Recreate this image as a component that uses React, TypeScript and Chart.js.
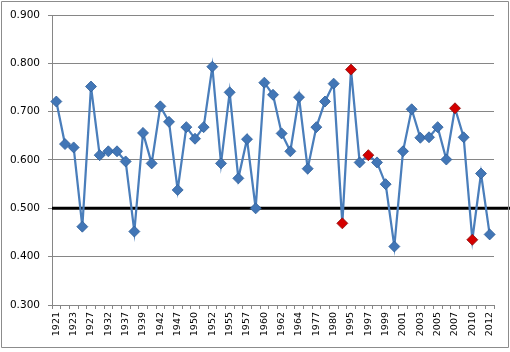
import React, { useEffect, useRef } from "react";
import { Chart, registerables } from "chart.js";

Chart.register(...registerables);

const years: string[] = [
  "1921", "1922", "1923", "1925", "1927", "1930", "1932", "1935", "1937", "1938",
  "1939", "1941", "1942", "1945", "1947", "1949", "1950", "1951", "1952", "1954",
  "1955", "1956", "1957", "1959", "1960", "1961", "1962", "1963", "1964", "1976",
  "1977", "1979", "1980", "1983", "1995", "1996", "1997", "1998", "1999", "2000",
  "2001", "2002", "2003", "2004", "2005", "2006", "2007", "2009", "2010", "2011",
  "2012",
];

const values: number[] = [
  0.721, 0.633, 0.626, 0.462, 0.752, 0.610, 0.618, 0.618, 0.597, 0.452,
  0.656, 0.593, 0.711, 0.679, 0.538, 0.668, 0.644, 0.668, 0.793, 0.593,
  0.740, 0.562, 0.643, 0.500, 0.760, 0.735, 0.655, 0.618, 0.730, 0.582,
  0.668, 0.721, 0.758, 0.469, 0.787, 0.595, 0.610, 0.595, 0.550, 0.421,
  0.618, 0.705, 0.646, 0.647, 0.668, 0.601, 0.707, 0.647, 0.435, 0.572,
  0.446,
];

const highlightedYears: string[] = ["1983", "1995", "1997", "2007", "2010"];

const referenceValue = 0.5;
const yMin = 0.3;
const yMax = 0.9;
const yStep = 0.1;

const BLUE_LINE = "#4A7EBB";
const BLUE_FILL = "#4276B6";
const BLUE_BORDER = "#2F5F9A";
const RED_FILL = "#D40000";
const RED_BORDER = "#8A1010";

export default function App() {
  const canvasRef = useRef<HTMLCanvasElement | null>(null);

  useEffect(() => {
    const canvas = canvasRef.current;
    if (!canvas) return;

    const frameAndRefLine = {
      id: "frameAndRefLine",
      beforeDatasetsDraw(chart: any) {
        const { ctx, chartArea, scales } = chart;
        const y = scales.y.getPixelForValue(referenceValue);
        ctx.save();
        ctx.strokeStyle = "#000000";
        ctx.lineWidth = 3;
        ctx.beginPath();
        ctx.moveTo(chartArea.left, y);
        ctx.lineTo(chart.width, y);
        ctx.stroke();
        ctx.restore();
      },
      afterDraw(chart: any) {
        const { ctx } = chart;
        ctx.save();
        ctx.strokeStyle = "#8C8C8C";
        ctx.lineWidth = 1;
        ctx.beginPath();
        ctx.rect(1.5, 1.5, 507, 346);
        ctx.stroke();
        ctx.restore();
      },
    };

    const pointFills = years.map((y) =>
      highlightedYears.includes(y) ? RED_FILL : BLUE_FILL
    );
    const pointBorders = years.map((y) =>
      highlightedYears.includes(y) ? RED_BORDER : BLUE_BORDER
    );

    const chart = new Chart(canvas, {
      type: "line",
      data: {
        labels: years,
        datasets: [
          {
            data: values,
            borderColor: BLUE_LINE,
            borderWidth: 2.25,
            tension: 0,
            pointStyle: "rectRot",
            pointRadius: 5.5,
            pointBackgroundColor: pointFills,
            pointBorderColor: pointBorders,
            pointBorderWidth: 0.8,
            fill: false,
          },
        ],
      },
      options: {
        animation: false,
        responsive: false,
        maintainAspectRatio: false,
        events: [],
        layout: { padding: { top: 15, right: 16, left: 0, bottom: 0 } },
        plugins: {
          legend: { display: false },
          tooltip: { enabled: false },
          title: { display: false },
        },
        scales: {
          x: {
            type: "category",
            offset: true,
            grid: {
              display: true,
              offset: true,
              drawOnChartArea: false,
              drawTicks: true,
              tickLength: 4,
              color: "#868686",
            },
            border: { display: true, color: "#868686", width: 1 },
            ticks: {
              autoSkip: false,
              minRotation: 90,
              maxRotation: 90,
              padding: 3,
              color: "#000000",
              font: { family: "DejaVu Sans", size: 9.5 },
              callback: (_v: any, i: number) => (i % 2 === 0 ? years[i] : ""),
            },
            afterFit: (s: any) => {
              s.height = 352 - 305;
            },
          },
          y: {
            min: yMin,
            max: yMax,
            grid: {
              color: "#868686",
              lineWidth: 1,
              drawTicks: true,
              tickLength: 4,
            },
            border: { display: true, color: "#868686", width: 1 },
            ticks: {
              stepSize: yStep,
              padding: 8,
              color: "#000000",
              font: { family: "DejaVu Sans", size: 10.5 },
              callback: (v: any) => Number(v).toFixed(3),
            },
            afterFit: (s: any) => {
              s.width = 52;
            },
          },
        },
      },
      plugins: [frameAndRefLine],
    });

    return () => {
      chart.destroy();
    };
  }, []);

  return (
    <div
      style={{
        position: "fixed",
        left: 0,
        top: 0,
        width: 510,
        height: 352,
        background: "#ffffff",
      }}
    >
      <canvas
        ref={canvasRef}
        width={510}
        height={352}
        style={{ width: 510, height: 352, display: "block" }}
      />
    </div>
  );
}
